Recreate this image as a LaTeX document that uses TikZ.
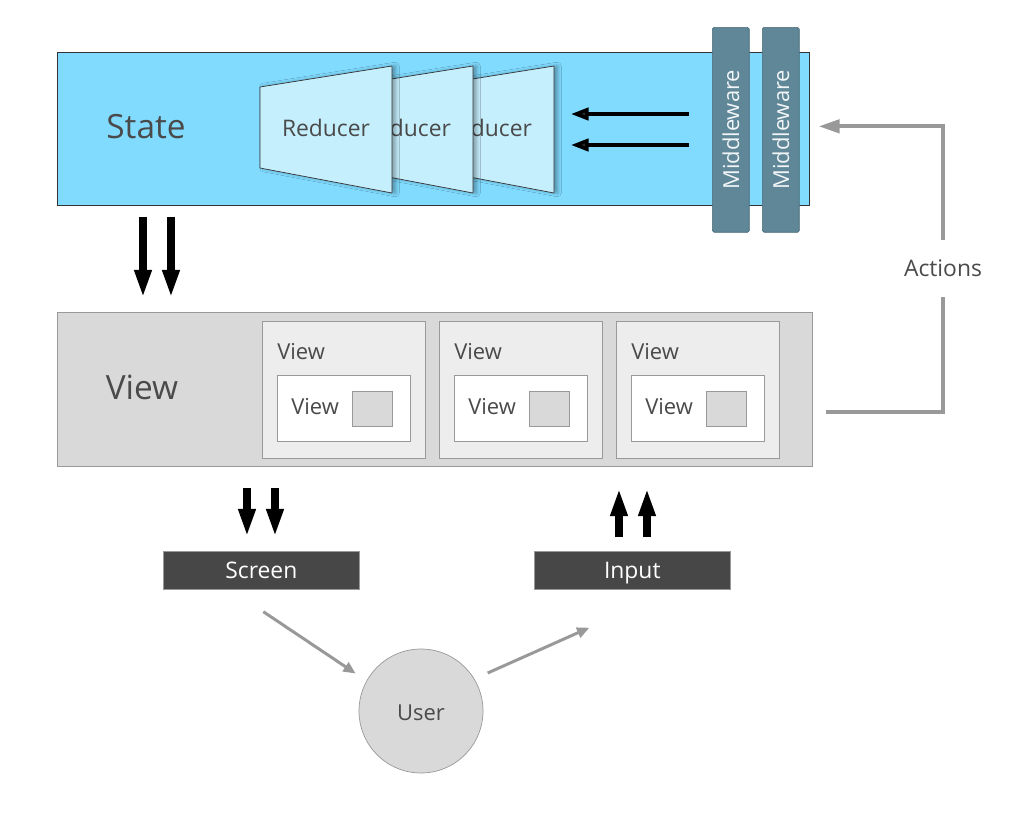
\documentclass[tikz,border=0pt]{standalone}
\usepackage{fontspec}
\setmainfont{Open Sans}
\usetikzlibrary{arrows.meta}
\usetikzlibrary{shadows.blur}
\usetikzlibrary{positioning}

\definecolor{statecol}{HTML}{80DBFF}
\definecolor{reducercol}{HTML}{C6EFFE}
\definecolor{midcol}{HTML}{5F8797}
\definecolor{midline}{HTML}{4A6B78}
\definecolor{viewcol}{HTML}{D9D9D9}
\definecolor{subcol}{HTML}{EDEDED}
\definecolor{linecol}{HTML}{999999}
\definecolor{darkcol}{HTML}{474747}
\definecolor{txtcol}{HTML}{4A4A4A}

\tikzset{
  lbl/.style={text=txtcol, font=\fontsize{12.5}{15}\selectfont, inner sep=0pt},
  biglbl/.style={text=txtcol, font=\fontsize{19}{22}\selectfont, inner sep=0pt},
  statebox/.style={draw=black!80, fill=statecol, anchor=north west, minimum width=15.04cm, minimum height=3.06cm, inner sep=0pt},
  reducer/.style={draw=black!80, fill=reducercol, blur shadow={shadow xshift=2pt, shadow yshift=0pt, shadow blur steps=8, shadow opacity=35}},
  midbox/.style={draw=midline, fill=midcol, rounded corners=1pt, anchor=north west, minimum width=0.74cm, minimum height=4.1cm, inner sep=0pt, text=white!92!midcol, font=\fontsize{12.5}{15}\selectfont},
  viewbox/.style={draw=linecol, fill=viewcol, anchor=north west, minimum width=15.1cm, minimum height=3.08cm, inner sep=0pt},
  subbox/.style={draw=linecol, fill=subcol, anchor=north west, minimum width=3.26cm, minimum height=2.74cm, inner sep=0pt},
  innerbox/.style={draw=linecol, fill=white, anchor=north west, minimum width=2.66cm, minimum height=1.32cm, inner sep=0pt},
  tinybox/.style={draw=linecol, fill=viewcol, anchor=north west, minimum width=0.8cm, minimum height=0.7cm, inner sep=0pt},
  darkbox/.style={draw=linecol, fill=darkcol, anchor=north west, minimum width=3.92cm, minimum height=0.76cm, inner sep=0pt, text height=2.1ex, text depth=0.45ex, text=white, font=\fontsize{13}{15}\selectfont},
  userbox/.style={circle, draw=linecol, fill=viewcol, minimum size=2.48cm, inner sep=0pt, text height=2.3ex, text depth=0.2ex, text=txtcol, font=\fontsize{12.5}{15}\selectfont},
  bigarrow/.style={line width=4.2pt, -{Triangle[length=16pt, width=9pt]}},
  smallarrow/.style={line width=2pt, -{Triangle[length=10pt, width=7pt]}},
  greyarrow/.style={draw=linecol, line width=1.7pt, -{Triangle[length=7pt, width=6pt]}},
  actline/.style={draw=linecol, line width=2.3pt},
}

\begin{document}
\begin{tikzpicture}[x=0.02cm, y=-0.02cm]
\useasboundingbox (0,0) rectangle (1036,819);

% State
\node[statebox] (state) at (57,52) {};
\node[biglbl] (statelbl) at (146,127) {State};

% Reducers, back to front
\foreach \i/\dx in {3/162,2/81,1/0}{
  \draw[reducer] ({260+\dx},87) -- ({392+\dx},66) -- ({392+\dx},193) -- ({260+\dx},168) -- cycle;
  \node[lbl, font=\fontsize{13}{15}\selectfont] (reducer\i) at ({326+\dx},128) {Reducer};
}

% Middleware
\node[midbox] (mid1) at (712,27) {\rotatebox{90}{Middleware}};
\node[midbox] (mid2) at (762,27) {\rotatebox{90}{Middleware}};

% actions into the reducers
\coordinate (in1) at (689,114);
\coordinate (out1) at (571,114);
\coordinate (in2) at (689,145);
\coordinate (out2) at (571,145);
\draw[smallarrow] (in1) -- (out1);
\draw[smallarrow] (in2) -- (out2);

% View
\node[viewbox] (view) at (57,312) {};
\node[biglbl] (viewlbl) at (142,387) {View};

\foreach \i/\x in {1/262,2/439,3/616}{
  \node[subbox] (sub\i) at (\x,321) {};
  \node[lbl, anchor=west] (sublbl\i) at ({\x+15},352) {View};
  \node[innerbox] (inner\i) at ({\x+15},375) {};
  \node[lbl, anchor=west] (innerlbl\i) at ({\x+29},407) {View};
  \node[tinybox] (tiny\i) at ({\x+90},391) {};
}

% State -> View
\draw[bigarrow] ([xshift=1.72cm,yshift=-0.22cm]state.south west) -- ([xshift=1.72cm,yshift=0.28cm]view.north west);
\draw[bigarrow] ([xshift=2.28cm,yshift=-0.22cm]state.south west) -- ([xshift=2.28cm,yshift=0.28cm]view.north west);

% Screen and Input
\node[darkbox] (screen) at (163,551) {Screen};
\node[darkbox] (input) at (534,551) {Input};

\draw[bigarrow] ([xshift=1.68cm,yshift=1.26cm]screen.north west) -- ([xshift=1.68cm,yshift=0.28cm]screen.north west);
\draw[bigarrow] ([xshift=2.24cm,yshift=1.26cm]screen.north west) -- ([xshift=2.24cm,yshift=0.28cm]screen.north west);
\draw[bigarrow] ([xshift=1.70cm,yshift=0.28cm]input.north west) -- ([xshift=1.70cm,yshift=1.26cm]input.north west);
\draw[bigarrow] ([xshift=2.26cm,yshift=0.28cm]input.north west) -- ([xshift=2.26cm,yshift=1.26cm]input.north west);

% User
\node[userbox] (user) at (421,711) {User};
\coordinate (toinput) at ([xshift=-0.86cm,yshift=-0.76cm]input.south);
\draw[greyarrow, shorten >=0.26cm] ([xshift=0.04cm,yshift=-0.44cm]screen.south) -- (user.151);
\draw[greyarrow, shorten <=0.29cm] (user.31) -- (toinput);

% Actions
\node[lbl, font=\fontsize{13}{15}\selectfont, minimum height=1.14cm] (actions) at (943,268.5) {Actions};
\coordinate (tostate) at ([xshift=0.18cm,yshift=0.05cm]state.east);
\draw[actline] ([xshift=0.26cm,yshift=-0.46cm]view.east) -| (actions.south);
\draw[actline, -{Triangle[length=12pt, width=7.5pt]}] (actions.north) |- (tostate);

\end{tikzpicture}
\end{document}
